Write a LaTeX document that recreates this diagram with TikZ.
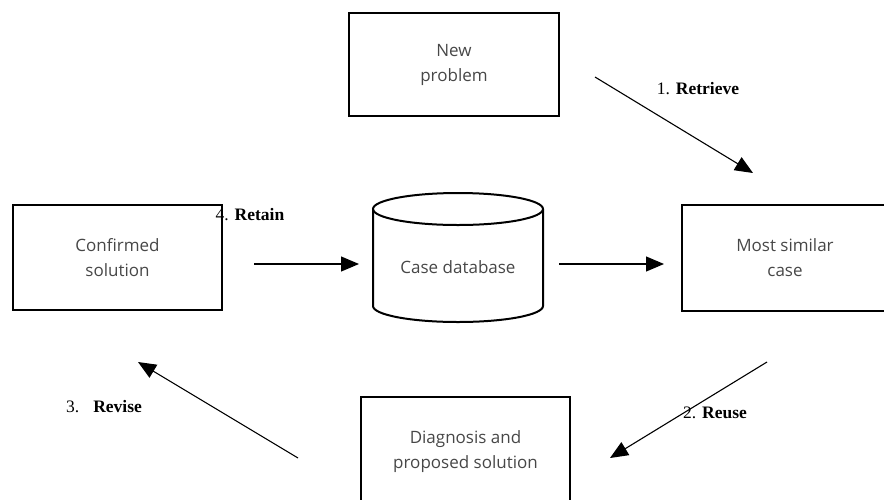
\documentclass[tikz,border=0pt]{standalone}
\usepackage{fontspec}
\setmainfont{Open Sans}
\newfontfamily\labfont{Liberation Serif}
\usetikzlibrary{arrows.meta}
\begin{document}
\begin{tikzpicture}[x=1pt,y=-1pt,
  box/.style={draw,line width=2.2pt,rectangle,align=center,
    font=\fontsize{17}{25}\selectfont,text=black!72,inner sep=0pt},
  conn/.style={line width=1.1pt,-{Triangle[length=18pt,width=15pt]}},
  lab/.style={font=\labfont\fontsize{17.5}{20}\selectfont,inner sep=0pt}]
\useasboundingbox (0,0) rectangle (884,499);
\clip (0,0) rectangle (884,499);
% boxes
\node[box,minimum width=210pt,minimum height=103pt] (np) at (454,64.5) {New\\problem};
\node[box,minimum width=209pt,minimum height=105pt] (cs) at (117.5,257.5) {Confirmed\\solution};
\node[box,minimum width=206pt,minimum height=106pt] (ms) at (785,258) {Most similar\\case};
\node[box,minimum width=209pt,minimum height=110pt] (dp) at (465.5,452) {Diagnosis and\\proposed solution};
% cylinder
\draw[line width=2pt] (373,209) -- (373,306) arc[start angle=180,end angle=360,x radius=85pt,y radius=16pt] -- (543,209);
\draw[line width=2pt] (458,209) ellipse[x radius=85pt,y radius=16pt];
\node[font=\fontsize{17}{25}\selectfont,text=black!72,inner sep=0pt] (db) at (458,267) {Case database};
% connector ends
\coordinate (a1s) at (595,77);   \coordinate (a1e) at (753,173);
\coordinate (a2s) at (767,362);  \coordinate (a2e) at (610,458);
\coordinate (a3s) at (298,458);  \coordinate (a3e) at (138,362);
\coordinate (a4s) at (254,264);  \coordinate (a4e) at (359,264);
\coordinate (a5s) at (559,264);  \coordinate (a5e) at (664,264);
\draw[conn] (a1s) -- (a1e);
\draw[conn] (a2s) -- (a2e);
\draw[conn] (a3s) -- (a3e);
\draw[conn] (a4s) -- (a4e);
\draw[conn] (a5s) -- (a5e);
% labels
\node[lab] (l1) at (698,89) {1. \textbf{Retrieve}};
\node[lab] (l2) at (715,413) {2. \textbf{Reuse}};
\node[lab] (l3) at (104,407) {3.\hspace{0.8em}\textbf{Revise}};
\node[lab] (l4) at (250,215) {4. \textbf{Retain}};
\end{tikzpicture}
\end{document}
